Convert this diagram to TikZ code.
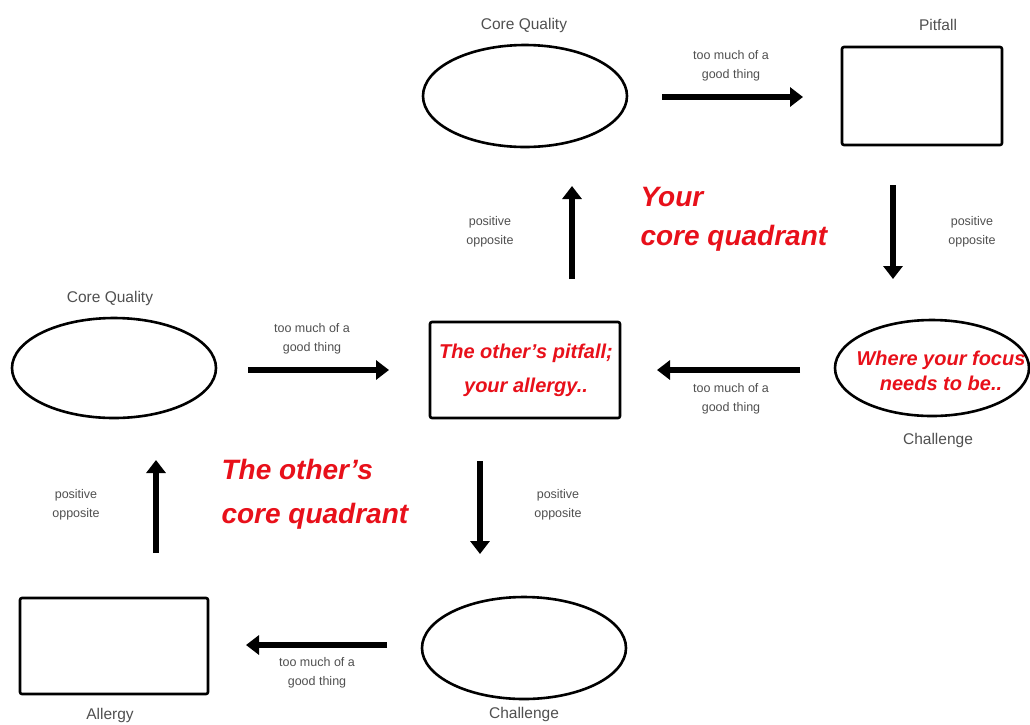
\documentclass[tikz,border=0pt]{standalone}
\usepackage{fontspec}
\setmainfont{Liberation Sans}
\usetikzlibrary{shapes.geometric,arrows.meta}
\definecolor{lblgrey}{HTML}{505050}
\definecolor{hotred}{HTML}{E8101A}
\tikzset{
  oval/.style={draw=black, line width=2.6pt, ellipse, inner sep=0pt, minimum width=204pt, minimum height=102pt},
  boxnode/.style={draw=black, line width=2.6pt, rounded corners=2pt, inner sep=0pt, minimum width=188pt, minimum height=96pt},
  small/.style={text=lblgrey, align=center, font=\fontsize{12.5}{19}\selectfont},
  title/.style={text=lblgrey, align=center, font=\fontsize{15.5}{19}\selectfont},
  bigred/.style={text=hotred, align=left, font=\fontsize{28}{39}\selectfont\bfseries\itshape},
  inred/.style={text=hotred, align=center, font=\fontsize{20}{34}\selectfont\bfseries\itshape},
  fat/.style={line width=6.5pt, -{Triangle[length=13pt,width=19pt]}},
}
\begin{document}
\begin{tikzpicture}[x=1pt,y=-1pt]
\path[use as bounding box, fill=white] (0,0) rectangle (1030,724);

% your quadrant
\node[oval] (cq1) at (525,96) {};
\node[title] (cq1l) at (524,25) {Core Quality};
\node[boxnode, minimum width=160pt, minimum height=98pt] (pit) at (922,96) {};
\node[title] (pitl) at (938,25) {Pitfall};
\node[boxnode, minimum width=190pt, minimum height=96pt] (mid) at (525,370) {};
\node[inred] (midt) at (526,370.5) {The other's pitfall;\\your allergy..};
\node[oval, minimum width=194pt, minimum height=96pt] (ch1) at (932,368) {};
\node[inred, font=\fontsize{20}{25}\selectfont\bfseries\itshape] (ch1t) at (941,370.5) {Where your focus\\needs to be..};
\node[title] (ch1l) at (938,440) {Challenge};
\node[bigred, anchor=north west] (yq) at (637,184) {Your\\core quadrant};

% other's quadrant
\node[oval, minimum height=100pt] (cq2) at (114,368) {};
\node[title] (cq2l) at (110,298) {Core Quality};
\node[boxnode] (all) at (114,646) {};
\node[title] (alll) at (110,715) {Allergy};
\node[oval] (ch2) at (524,648) {};
\node[title] (ch2l) at (524,714) {Challenge};
\node[bigred, anchor=north west, font=\fontsize{28}{44}\selectfont\bfseries\itshape] (oq) at (218,456) {The other's\\core quadrant};

% arrow end points
\coordinate (a1s) at (662,97);  \coordinate (a1e) at (803,97);
\coordinate (a2s) at (893,185); \coordinate (a2e) at (893,279);
\coordinate (a3s) at (800,370); \coordinate (a3e) at (657,370);
\coordinate (a4s) at (572,279); \coordinate (a4e) at (572,186);
\coordinate (a5s) at (248,370); \coordinate (a5e) at (389,370);
\coordinate (a6s) at (480,461); \coordinate (a6e) at (480,554);
\coordinate (a7s) at (387,645); \coordinate (a7e) at (246,645);
\coordinate (a8s) at (156,553); \coordinate (a8e) at (156,460);

\draw[fat] (a1s) -- (a1e);
\draw[fat] (a2s) -- (a2e);
\draw[fat] (a3s) -- (a3e);
\draw[fat] (a4s) -- (a4e);
\draw[fat] (a5s) -- (a5e);
\draw[fat] (a6s) -- (a6e);
\draw[fat] (a7s) -- (a7e);
\draw[fat] (a8s) -- (a8e);

% arrow labels
\node[small] (l1) at (731,66) {too much of a\\good thing};
\node[small] (l2) at (972,232) {positive\\opposite};
\node[small] (l3) at (731,399) {too much of a\\good thing};
\node[small] (l4) at (490,232) {positive\\opposite};
\node[small] (l5) at (312,339) {too much of a\\good thing};
\node[small] (l6) at (558,505) {positive\\opposite};
\node[small] (l7) at (317,673) {too much of a\\good thing};
\node[small] (l8) at (76,505) {positive\\opposite};
\end{tikzpicture}
\end{document}
